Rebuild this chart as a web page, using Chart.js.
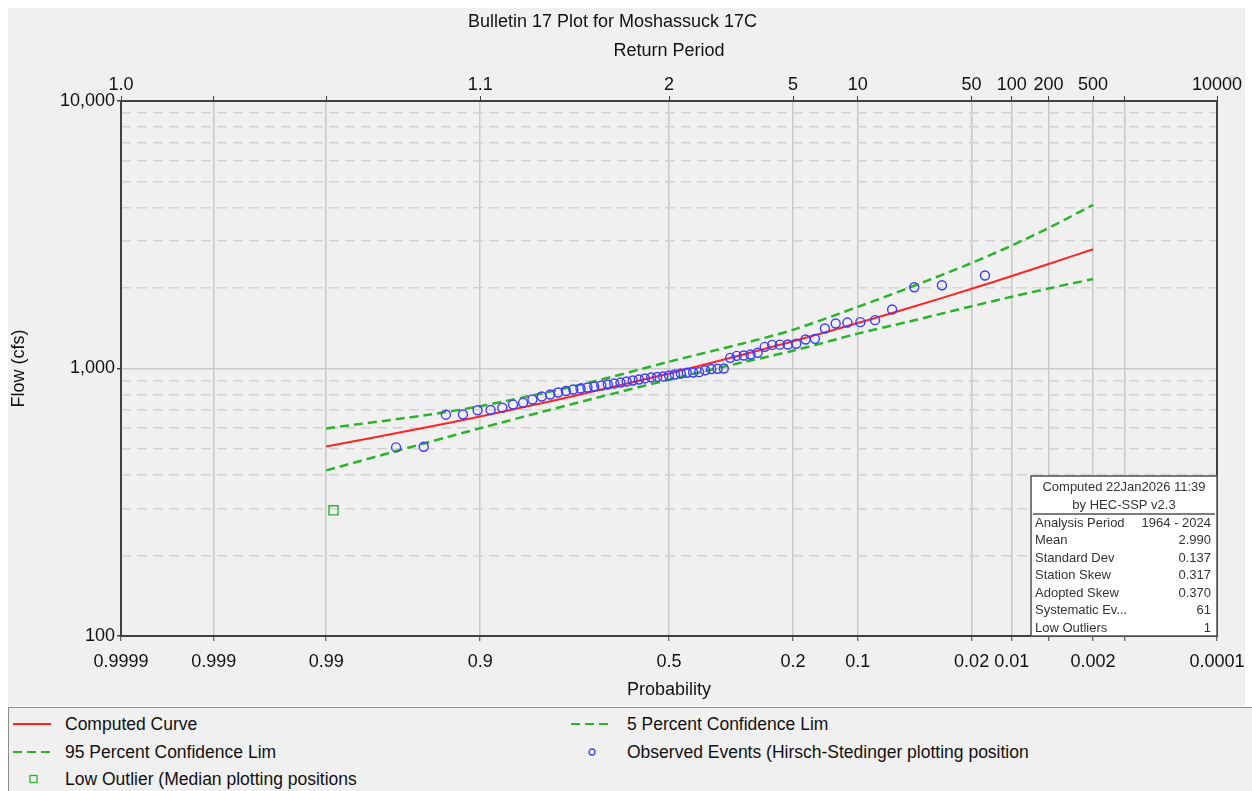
<!DOCTYPE html>
<html>
<head>
<meta charset="utf-8">
<script src="https://cdn.jsdelivr.net/npm/chart.js@4.4.1/dist/chart.umd.min.js"></script>
<style>
  body { margin: 0; background: #fff; font-family: "Liberation Sans", Arial, sans-serif; }
  #panel { position: absolute; left: 8px; top: 8px; width: 1237px; height: 698px; background: #f0f0f0; }
  #legend { position: absolute; left: 8px; top: 707px; width: 1244px; height: 84px; background: #f0f0f0;
            border-top: 1px solid #8c8c8c; border-left: 1px solid #8c8c8c; }
  .item { position: absolute; height: 20px; font-size: 17.5px; color: #111; white-space: nowrap; }
  .item svg { position: absolute; top: 5px; }
  .item span { position: absolute; top: 0; }
</style>
</head>
<body>
<div id="panel"><canvas id="freqChart" width="1237" height="698"></canvas></div>
<div id="legend"></div>
<script>
// --- Values ---
const curveProb = [0.99, 0.95, 0.9, 0.8, 0.7, 0.5, 0.3, 0.2, 0.1, 0.05, 0.02, 0.01, 0.005, 0.002];
const computedFlow = [511, 603, 662, 746, 818, 958, 1136, 1265, 1479, 1694, 1986, 2216, 2459, 2790];
const upper5Flow = [597, 670, 723, 812, 890, 1060, 1250, 1395, 1700, 2020, 2480, 2883, 3352, 4090];
const lower95Flow = [416, 528, 598, 693, 769, 908, 1062, 1165, 1350, 1505, 1709, 1854, 1992, 2160];

const obsProb = [0.016, 0.032, 0.048, 0.065, 0.081, 0.097, 0.113, 0.129, 0.145, 0.161,
                 0.177, 0.194, 0.210, 0.226, 0.242, 0.258, 0.274, 0.290, 0.306, 0.323,
                 0.339, 0.355, 0.371, 0.387, 0.403, 0.419, 0.435, 0.452, 0.468, 0.484,
                 0.500, 0.516, 0.532, 0.548, 0.565, 0.581, 0.597, 0.613, 0.629, 0.645,
                 0.661, 0.677, 0.694, 0.710, 0.726, 0.742, 0.758, 0.774, 0.790, 0.806,
                 0.823, 0.839, 0.855, 0.871, 0.887, 0.903, 0.919, 0.935, 0.952, 0.968];
const obsFlow = [2227, 2048, 2013, 1662, 1516, 1490, 1485, 1473, 1411, 1291,
                 1283, 1237, 1229, 1228, 1225, 1205, 1145, 1128, 1118, 1115,
                 1096, 1000, 998, 996, 985, 969, 966, 964, 958, 950,
                 942, 934, 930, 926, 918, 910, 902, 894, 886, 879,
                 871, 864, 856, 849, 842, 835, 824, 813, 799, 786,
                 766, 744, 733, 713, 700, 698, 673, 672, 510, 507];

const outlierProb = [0.9886];
const outlierFlow = [295];

const probTicks = [0.9999, 0.999, 0.99, 0.9, 0.5, 0.2, 0.1, 0.02, 0.01, 0.005, 0.002, 0.001, 0.0001];
const probLabels = ['0.9999', '0.999', '0.99', '0.9', '0.5', '0.2', '0.1', '0.02', '0.01', '', '0.002', '', '0.0001'];
const returnLabels = ['1.0', '', '', '1.1', '2', '5', '10', '50', '100', '200', '500', '', '10000'];

const flowTicks = [100, 200, 300, 400, 500, 600, 700, 800, 900,
                   1000, 2000, 3000, 4000, 5000, 6000, 7000, 8000, 9000, 10000];
const flowMajor = [100, 1000, 10000];

const statsHead = ['Computed 22Jan2026 11:39', 'by HEC-SSP v2.3'];
const statsNames = ['Analysis Period', 'Mean', 'Standard Dev', 'Station Skew', 'Adopted Skew', 'Systematic Ev...', 'Low Outliers'];
const statsValues = ['1964 - 2024', '2.990', '0.137', '0.317', '0.370', '61', '1'];

// inverse standard normal (Acklam)
function normInv(p) {
    const a = [-3.969683028665376e+01, 2.209460984245205e+02, -2.759285104469687e+02, 1.383577518672690e+02, -3.066479806614716e+01, 2.506628277459239e+00];
    const b = [-5.447609879822406e+01, 1.615858368580409e+02, -1.556989798598866e+02, 6.680131188771972e+01, -1.328068155288572e+01];
    const c = [-7.784894002430293e-03, -3.223964580411365e-01, -2.400758277161838e+00, -2.549732539343734e+00, 4.374664141464968e+00, 2.938163982698783e+00];
    const d = [7.784695709041462e-03, 3.224671290700398e-01, 2.445134137142996e+00, 3.754408661907416e+00];
    const pl = 0.02425;
    let q, r;
    if (p < pl) {
        q = Math.sqrt(-2 * Math.log(p));
        return (((((c[0]*q + c[1])*q + c[2])*q + c[3])*q + c[4])*q + c[5]) / ((((d[0]*q + d[1])*q + d[2])*q + d[3])*q + 1);
    }
    if (p > 1 - pl) {
        q = Math.sqrt(-2 * Math.log(1 - p));
        return -(((((c[0]*q + c[1])*q + c[2])*q + c[3])*q + c[4])*q + c[5]) / ((((d[0]*q + d[1])*q + d[2])*q + d[3])*q + 1);
    }
    q = p - 0.5; r = q * q;
    return (((((a[0]*r + a[1])*r + a[2])*r + a[3])*r + a[4])*r + a[5])*q / (((((b[0]*r + b[1])*r + b[2])*r + b[3])*r + b[4])*r + 1);
}
// exceedance probability -> position on the probability axis
const zOf = p => normInv(1 - p);
const toPoints = (probs, flows) => probs.map((p, i) => ({ x: zOf(p), y: flows[i] }));

const RED = '#ff2424', GREEN = '#2bb42b', BLUE = '#3c3cff';
const FONT = '"Liberation Sans", Arial, sans-serif';
const zMin = zOf(0.9999), zMax = zOf(0.0001);

// --- plot frame + statistics box ---
const framePlugin = {
    id: 'frame',
    afterDraw(chart) {
        const { ctx, chartArea: a } = chart;
        ctx.save();
        ctx.strokeStyle = '#404040';
        ctx.lineWidth = 2;
        ctx.strokeRect(a.left, a.top, a.right - a.left, a.bottom - a.top);

        const w = 186, h = 160;
        const x0 = a.right - w, y0 = a.bottom - h;
        ctx.fillStyle = '#fff';
        ctx.fillRect(x0, y0, w, h);
        ctx.strokeStyle = '#505050';
        ctx.lineWidth = 1.5;
        ctx.strokeRect(x0, y0, w, h);
        ctx.beginPath();
        ctx.moveTo(x0 + 2, y0 + 38);
        ctx.lineTo(a.right - 2, y0 + 38);
        ctx.stroke();

        ctx.fillStyle = '#333';
        ctx.font = '13px ' + FONT;
        ctx.textBaseline = 'middle';
        ctx.textAlign = 'center';
        statsHead.forEach((t, i) => ctx.fillText(t, x0 + w / 2, y0 + 11 + i * 18));
        statsNames.forEach((t, i) => {
            const y = y0 + 47 + i * 17.5;
            ctx.textAlign = 'left';
            ctx.fillText(t, x0 + 4, y);
            ctx.textAlign = 'right';
            ctx.fillText(statsValues[i], a.right - 6, y);
        });
        ctx.restore();
    }
};

const ctx = document.getElementById('freqChart').getContext('2d');
const chart = new Chart(ctx, {
    type: 'scatter',
    data: {
        datasets: [
            {
                label: 'Computed Curve',
                data: toPoints(curveProb, computedFlow),
                showLine: true, borderColor: RED, borderWidth: 2, pointRadius: 0,
                tension: 0.3, order: 2
            },
            {
                label: '5 Percent Confidence Lim',
                data: toPoints(curveProb, upper5Flow),
                showLine: true, borderColor: GREEN, borderWidth: 2.5, borderDash: [9, 5], pointRadius: 0,
                tension: 0.3, order: 3
            },
            {
                label: '95 Percent Confidence Lim',
                data: toPoints(curveProb, lower95Flow),
                showLine: true, borderColor: GREEN, borderWidth: 2.5, borderDash: [9, 5], pointRadius: 0,
                tension: 0.3, order: 4
            },
            {
                label: 'Observed Events (Hirsch-Stedinger plotting position',
                data: toPoints(obsProb, obsFlow),
                showLine: false, pointStyle: 'circle', pointRadius: 4.5,
                borderColor: BLUE, borderWidth: 1.4, backgroundColor: 'rgba(0,0,0,0)', order: 0
            },
            {
                label: 'Low Outlier (Median plotting positions',
                data: toPoints(outlierProb, outlierFlow),
                showLine: false, pointStyle: 'rect', pointRadius: 6.4,
                borderColor: GREEN, borderWidth: 1.4, backgroundColor: 'rgba(0,0,0,0)', order: 1
            }
        ]
    },
    options: {
        responsive: false,
        animation: false,
        layout: { padding: { left: 0, right: 28, top: 0, bottom: 0 } },
        plugins: {
            legend: { display: false },
            tooltip: { enabled: false },
            title: {
                display: true, text: 'Bulletin 17 Plot for Moshassuck 17C', color: '#111',
                font: { family: FONT, size: 18, weight: 'normal' }, padding: { top: 3, bottom: 0 }
            }
        },
        scales: {
            x: {
                type: 'linear', position: 'bottom', min: zMin, max: zMax,
                afterBuildTicks: s => { s.ticks = probTicks.map(p => ({ value: zOf(p) })); },
                afterFit: s => { s.height = 70; s.paddingLeft = 0; s.paddingRight = 0; },
                ticks: {
                    autoSkip: false, maxRotation: 0, padding: 10, color: '#111',
                    font: { family: FONT, size: 18 },
                    callback: (v, i) => probLabels[i]
                },
                grid: { color: '#c8c8c8', lineWidth: 1.5, tickColor: '#404040', tickLength: 5, tickWidth: 1 },
                border: { display: false },
                title: { display: true, text: 'Probability', color: '#111', font: { family: FONT, size: 18 }, padding: { top: 0, bottom: 5 } }
            },
            x2: {
                type: 'linear', position: 'top', axis: 'x', min: zMin, max: zMax,
                afterBuildTicks: s => { s.ticks = probTicks.map(p => ({ value: zOf(p) })); },
                afterFit: s => { s.height = 68.4; s.paddingLeft = 0; s.paddingRight = 0; },
                ticks: {
                    autoSkip: false, maxRotation: 0, padding: 0, color: '#111',
                    font: { family: FONT, size: 18 },
                    callback: (v, i) => returnLabels[i]
                },
                grid: { drawOnChartArea: false, tickColor: '#404040', tickLength: 5, tickWidth: 1 },
                border: { display: false },
                title: { display: true, text: 'Return Period', color: '#111', font: { family: FONT, size: 18 }, padding: { top: 8, bottom: 0 } }
            },
            y: {
                type: 'logarithmic', min: 100, max: 10000,
                afterBuildTicks: s => { s.ticks = flowTicks.map(v => ({ value: v })); },
                afterFit: s => { s.width = 113; },
                ticks: {
                    autoSkip: false, padding: 2, color: '#111',
                    font: { family: FONT, size: 18 },
                    callback: v => flowMajor.includes(v) ? v.toLocaleString('en-US') : ''
                },
                grid: {
                    color: c => (c.tick && c.tick.value === 1000) ? '#cccccc' : '#d2d2d2',
                    lineWidth: 1.5,
                    tickLength: 4,
                    tickColor: c => (c.tick && flowMajor.includes(c.tick.value)) ? '#404040' : 'rgba(0,0,0,0)'
                },
                border: {
                    display: false,
                    dash: c => (c.tick && !flowMajor.includes(c.tick.value)) ? [10, 6] : []
                },
                title: { display: true, text: 'Flow (cfs)', color: '#111', font: { family: FONT, size: 18 }, padding: { top: 0, bottom: 0 } }
            }
        }
    },
    plugins: [framePlugin]
});

// --- legend below the chart, built from the datasets ---
const legendSlots = [
    { ds: 0, left: 4, top: 6 },
    { ds: 1, left: 562, top: 6 },
    { ds: 2, left: 4, top: 34 },
    { ds: 3, left: 562, top: 34 },
    { ds: 4, left: 4, top: 61 }
];
const legendDiv = document.getElementById('legend');
legendSlots.forEach(slot => {
    const ds = chart.data.datasets[slot.ds];
    let sample;
    if (ds.showLine) {
        const dash = ds.borderDash ? `stroke-dasharray="${ds.borderDash.join(' ')}"` : '';
        sample = `<svg width="40" height="10" style="left:0"><line x1="0" y1="5" x2="38" y2="5" stroke="${ds.borderColor}" stroke-width="2" ${dash}/></svg>`;
    } else if (ds.pointStyle === 'circle') {
        sample = `<svg width="40" height="10" style="left:0"><circle cx="21" cy="5" r="3" fill="none" stroke="${ds.borderColor}" stroke-width="1.3"/></svg>`;
    } else {
        sample = `<svg width="40" height="10" style="left:0"><rect x="17" y="1.5" width="7" height="7" fill="none" stroke="${ds.borderColor}" stroke-width="1.3"/></svg>`;
    }
    const el = document.createElement('div');
    el.className = 'item';
    el.style.left = slot.left + 'px';
    el.style.top = slot.top + 'px';
    el.innerHTML = sample + `<span style="left:${slot.ds === 3 || slot.ds === 1 ? 56 : 52}px">${ds.label}</span>`;
    legendDiv.appendChild(el);
});
</script>
</body>
</html>
